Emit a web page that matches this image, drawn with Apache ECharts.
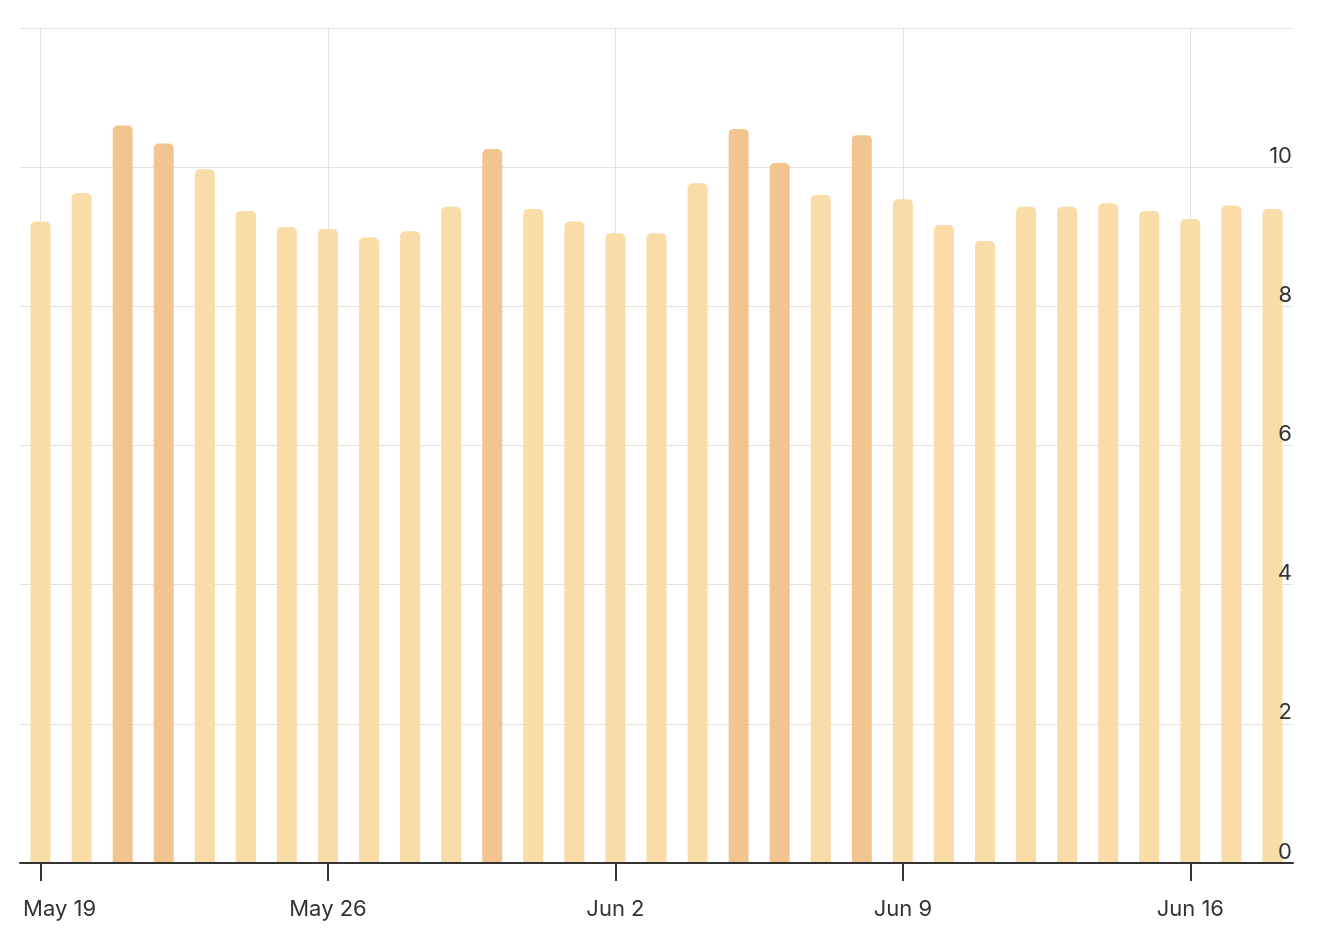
<!DOCTYPE html>
<html>
<head>
<meta charset="utf-8">
<script src="https://cdn.jsdelivr.net/npm/echarts@6/dist/echarts.min.js"></script>
<style>
    html, body { margin: 0; padding: 0; background: #fff; }
    #chart { width: 1322px; height: 938px; }
</style>
</head>
<body>
<div id="chart"></div>
<script>
    // daily values, May 19 .. Jun 18
    const days = ['May 19', 'May 20', 'May 21', 'May 22', 'May 23', 'May 24', 'May 25',
        'May 26', 'May 27', 'May 28', 'May 29', 'May 30', 'May 31', 'Jun 1',
        'Jun 2', 'Jun 3', 'Jun 4', 'Jun 5', 'Jun 6', 'Jun 7', 'Jun 8',
        'Jun 9', 'Jun 10', 'Jun 11', 'Jun 12', 'Jun 13', 'Jun 14', 'Jun 15',
        'Jun 16', 'Jun 17', 'Jun 18'];
    const values = [9.22, 9.63, 10.60, 10.34, 9.97, 9.37, 9.14,
        9.11, 8.99, 9.08, 9.43, 10.26, 9.40, 9.22,
        9.05, 9.05, 9.77, 10.55, 10.06, 9.60, 10.46,
        9.54, 9.17, 8.94, 9.43, 9.43, 9.48, 9.37,
        9.25, 9.45, 9.40];
    const threshold = 10;
    const lightColor = '#F9DCA8';
    const darkColor = '#F2C590';

    const font = 'Inter, "Noto Sans", sans-serif';
    const chart = echarts.init(document.getElementById('chart'));
    chart.setOption({
        animation: false,
        grid: {left: 20, right: 29, top: 28, bottom: 75, containLabel: false},
        xAxis: [{
            // weekly grid lines, behind the bars
            type: 'category',
            data: days,
            boundaryGap: true,
            axisLine: {show: false},
            axisTick: {show: false},
            axisLabel: {show: false},
            splitLine: {show: true, alignWithLabel: true, interval: 6, lineStyle: {color: '#e3e1de', width: 1}}
        }, {
            // axis line, ticks and labels
            type: 'category',
            data: days,
            position: 'bottom',
            boundaryGap: true,
            z: 5,
            axisLine: {lineStyle: {color: '#333', width: 2}},
            axisTick: {show: true, alignWithLabel: true, interval: 6, length: 18, lineStyle: {color: '#333', width: 2}},
            splitLine: {show: false},
            axisLabel: {
                interval: 6, margin: 35, color: '#333', fontFamily: font, fontSize: 22,
                formatter: (v, i) => i === 0 ? '{first|' + v + '}' : v,
                rich: {first: {padding: [0, 0, 0, 38], color: '#333', fontFamily: font, fontSize: 22}}
            }
        }],
        yAxis: [{
            // grid lines, behind the bars
            type: 'value',
            position: 'right',
            min: 0, max: 12, interval: 2,
            axisLine: {show: false},
            axisTick: {show: false},
            axisLabel: {show: false},
            splitLine: {lineStyle: {color: '#e3e1de', width: 1}}
        }, {
            // labels, on top of the bars
            type: 'value',
            position: 'right',
            z: 5,
            min: 0, max: 12, interval: 2,
            axisLine: {show: false},
            axisTick: {show: false},
            splitLine: {show: false},
            axisLabel: {
                inside: true, margin: 1, verticalAlign: 'bottom',
                showMaxLabel: false, color: '#333', fontFamily: font, fontSize: 22
            }
        }],
        series: [{
            type: 'bar',
            barWidth: 20,
            data: values.map(v => ({
                value: v,
                itemStyle: {color: v > threshold ? darkColor : lightColor}
            })),
            itemStyle: {borderRadius: [5, 5, 0, 0]}
        }]
    });
</script>
</body>
</html>
